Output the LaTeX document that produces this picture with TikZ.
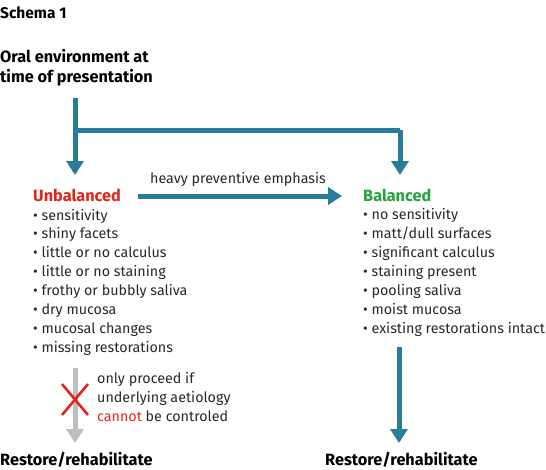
\documentclass[tikz,border=0pt]{standalone}
\usepackage{fontspec}
\setmainfont{Fira Sans}
\usetikzlibrary{arrows.meta}
\definecolor{teal}{RGB}{42,124,154}
\definecolor{myred}{RGB}{226,38,30}
\definecolor{mygreen}{RGB}{36,164,58}
\definecolor{mygrey}{RGB}{190,190,190}
\tikzset{
  txt/.style={inner sep=0pt, anchor=base west, font=\fontsize{14.3}{18.85}\selectfont\color[RGB]{40,40,40}},
  head/.style={inner sep=0pt, anchor=base west, font=\fontsize{16.3}{20}\selectfont\bfseries},
  lst/.style={txt, align=left},
  flow/.style={draw=teal, line width=5pt, -{Triangle[length=14pt,width=17pt]}},
  flowline/.style={draw=teal, line width=5pt},
}
\begin{document}
\begin{tikzpicture}[x=1pt,y=-1pt]
\useasboundingbox (0,0) rectangle (546,469);
\node[head, font=\fontsize{15.5}{18}\selectfont\bfseries] (title) at (0,18) {Schema 1};
% multi-line nodes: base anchor is the baseline of the last line
\node[head, align=left] (oral) at (0,82) {Oral environment at\\time of presentation};
\coordinate (top) at (75,98);
\coordinate (corner) at (75,130);
\coordinate (rcorner) at (400,130);
\node[head, text=myred] (unbal) at (33,201) {Unbalanced};
\node[head, text=mygreen] (bal) at (363,201) {Balanced};
\coordinate (ltip) at (75,175);
\coordinate (rtip) at (400,175);
\draw[flow] (top) -- (ltip);
\draw[flowline] (corner) -- (rcorner);
\draw[flow] (rcorner) -- (rtip);
\coordinate (hstart) at (138,196);
\coordinate (hend) at (342,196);
\draw[flow] (hstart) -- (hend);
\node[txt] (emph) at (150,183) {heavy preventive emphasis};
\node[lst] (ulist) at (33,352) {%
\textbullet\ sensitivity\\
\textbullet\ shiny facets\\
\textbullet\ little or no calculus\\
\textbullet\ little or no staining\\
\textbullet\ frothy or bubbly saliva\\
\textbullet\ dry mucosa\\
\textbullet\ mucosal changes\\
\textbullet\ missing restorations};
\node[lst] (blist) at (363,333) {%
\textbullet\ no sensitivity\\
\textbullet\ matt/dull surfaces\\
\textbullet\ significant calculus\\
\textbullet\ staining present\\
\textbullet\ pooling saliva\\
\textbullet\ moist mucosa\\
\textbullet\ existing restorations intact};
\node[head] (lrest) at (0,465) {Restore/rehabilitate};
\node[head] (rrest) at (325,465) {Restore/rehabilitate};
\coordinate (gstart) at (75,368);
\coordinate (gend) at (75,443);
\draw[draw=mygrey, line width=5pt, -{Triangle[length=14pt,width=17pt]}] (gstart) -- (gend);
\coordinate (rstart) at (399,347);
\coordinate (rend) at (399,443);
\draw[flow] (rstart) -- (rend);
\draw[myred, line width=2.6pt] (62,384) -- (88,415) (62,415) -- (88,384);
\node[lst, align=left] (note) at (97,421) {only proceed if\\underlying aetiology\\\textcolor{myred}{cannot} be controled};
\end{tikzpicture}
\end{document}
